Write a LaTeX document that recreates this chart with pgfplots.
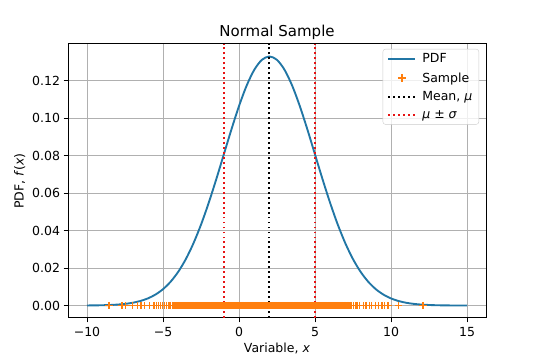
\documentclass[border=0pt]{standalone}
\usepackage{fontspec}
\setmainfont{DejaVu Sans}
\usepackage{pgfplots}
\pgfplotsset{compat=1.18}
\definecolor{pdfblue}{RGB}{33,118,165}
\definecolor{samporange}{RGB}{255,127,14}
\definecolor{gridgray}{RGB}{176,176,176}
\definecolor{legframe}{RGB}{204,204,204}
\definecolor{sigred}{RGB}{230,20,20}
\pgfplotsset{
  lineleg/.style={legend image code/.code={\draw[##1, line width=2pt] (0pt,0pt) -- (27pt,0pt); \path (31pt,0pt);}},
  markleg/.style={legend image code/.code={\draw[##1, line width=1.25pt] plot coordinates {(13.5pt,0pt)}; \path (0pt,0pt) (31pt,0pt);}},
}
\begin{document}
\begin{tikzpicture}
\begin{axis}[
  scale only axis, width=418pt, height=274pt,
  xmin=-11.25, xmax=16.25, ymin=-0.00665, ymax=0.13963,
  xtick={-10,-5,0,5,10,15}, xticklabels={−10,−5,0,5,10,15},
  ytick={0,0.02,0.04,0.06,0.08,0.10,0.12},
  yticklabels={0.00,0.02,0.04,0.06,0.08,0.10,0.12},
  tick align=outside, xtick pos=bottom, ytick pos=left,
  major tick length=4.4pt,
  tick style={black, line width=1pt},
  axis line style={line width=1pt},
  grid=major, grid style={gridgray, line width=1pt},
  ticklabel style={font=\fontsize{12.5}{15}\selectfont},
  xticklabel style={yshift=-1pt},
  title={Normal Sample},
  title style={font=\fontsize{15}{18}\selectfont, yshift=-5pt},
  xlabel={Variable, \textit{x}},
  ylabel={PDF, \textit{f}(\textit{x})},
  label style={font=\fontsize{12.5}{15}\selectfont},
  legend cell align=left,
  legend style={at={(1,1)}, anchor=north east, xshift=-7pt, yshift=-5pt,
    draw=legframe, rounded corners=2.5pt, fill=white, fill opacity=0.8, text opacity=1,
    font=\fontsize{12.5}{15}\selectfont, inner xsep=4.5pt, inner ysep=2.5pt,
    row sep=4.2pt},
]
\addplot[pdfblue, line width=1.875pt, smooth, lineleg] coordinates {
(-10,0.0000446) (-9.5,0.0000858) (-9,0.000160) (-8.5,0.000291) (-8,0.000514)
(-7.5,0.000884) (-7,0.001477) (-6.5,0.002402) (-6,0.003799) (-5.5,0.005843)
(-5,0.008740) (-4.5,0.012721) (-4,0.017997) (-3.5,0.024771) (-3,0.033159)
(-2.5,0.043172) (-2,0.054670) (-1.5,0.067332) (-1,0.080657) (-0.5,0.093970)
(0,0.106483) (0.5,0.117355) (1,0.125794) (1.5,0.131146) (2,0.132981)
(2.5,0.131146) (3,0.125794) (3.5,0.117355) (4,0.106483) (4.5,0.093970)
(5,0.080657) (5.5,0.067332) (6,0.054670) (6.5,0.043172) (7,0.033159)
(7.5,0.024771) (8,0.017997) (8.5,0.012721) (9,0.008740) (9.5,0.005843)
(10,0.003799) (10.5,0.002402) (11,0.001477) (11.5,0.000884) (12,0.000514)
(12.5,0.000291) (13,0.000160) (13.5,0.0000858) (14,0.0000446) (14.5,0.0000226)
(15,0.0000111)
};
\addlegendentry{PDF}
\addplot[only marks, mark=+, mark size=3.75pt, samporange,
  mark options={solid, line width=1.25pt}, markleg] coordinates {
(-8.55,0) (-7.7,0) (-7.45,0) (-7.0,0) (-6.7,0) (-6.45,0) (-6.2,0) (-5.9,0)
(-5.6,0) (-5.45,0) (-5.3,0) (-5.15,0) (-5.02,0) (-4.9,0) (-4.75,0) (-4.6,0) (-4.5,0)
(-4.38,0) (-4.27,0) (-4.15,0)
(-4.02,0) (-3.95,0) (-3.88,0) (-3.81,0) (-3.74,0) (-3.67,0) (-3.60,0) (-3.53,0)
(-3.46,0) (-3.39,0) (-3.32,0) (-3.25,0) (-3.18,0) (-3.11,0) (-3.04,0) (-2.97,0)
(-2.90,0) (-2.83,0) (-2.76,0) (-2.69,0) (-2.62,0) (-2.55,0) (-2.48,0) (-2.41,0)
(-2.34,0) (-2.27,0) (-2.20,0) (-2.13,0) (-2.06,0) (-1.99,0) (-1.92,0) (-1.85,0)
(-1.78,0) (-1.71,0) (-1.64,0) (-1.57,0) (-1.50,0) (-1.43,0) (-1.36,0) (-1.29,0)
(-1.22,0) (-1.15,0) (-1.08,0) (-1.01,0) (-0.94,0) (-0.87,0) (-0.80,0) (-0.73,0)
(-0.66,0) (-0.59,0) (-0.52,0) (-0.45,0) (-0.38,0) (-0.31,0) (-0.24,0) (-0.17,0)
(-0.10,0) (-0.03,0) (0.04,0) (0.11,0) (0.18,0) (0.25,0) (0.32,0) (0.39,0)
(0.46,0) (0.53,0) (0.60,0) (0.67,0) (0.74,0) (0.81,0) (0.88,0) (0.95,0)
(1.02,0) (1.09,0) (1.16,0) (1.23,0) (1.30,0) (1.37,0) (1.44,0) (1.51,0)
(1.58,0) (1.65,0) (1.72,0) (1.79,0) (1.86,0) (1.93,0) (2.00,0) (2.07,0)
(2.14,0) (2.21,0) (2.28,0) (2.35,0) (2.42,0) (2.49,0) (2.56,0) (2.63,0)
(2.70,0) (2.77,0) (2.84,0) (2.91,0) (2.98,0) (3.05,0) (3.12,0) (3.19,0)
(3.26,0) (3.33,0) (3.40,0) (3.47,0) (3.54,0) (3.61,0) (3.68,0) (3.75,0)
(3.82,0) (3.89,0) (3.96,0) (4.03,0) (4.10,0) (4.17,0) (4.24,0) (4.31,0)
(4.38,0) (4.45,0) (4.52,0) (4.59,0) (4.66,0) (4.73,0) (4.80,0) (4.87,0)
(4.94,0) (5.01,0) (5.08,0) (5.15,0) (5.22,0) (5.29,0) (5.36,0) (5.43,0)
(5.50,0) (5.57,0) (5.64,0) (5.71,0) (5.78,0) (5.85,0) (5.92,0) (5.99,0)
(6.06,0) (6.13,0) (6.20,0) (6.27,0) (6.34,0) (6.41,0) (6.48,0) (6.55,0)
(6.62,0) (6.69,0) (6.76,0) (6.83,0) (6.90,0) (6.97,0)
(7.1,0) (7.2,0) (7.3,0) (7.42,0) (7.55,0) (7.7,0) (7.82,0) (7.95,0) (8.2,0) (8.35,0)
(8.6,0) (8.7,0) (9.0,0) (9.2,0) (9.4,0) (9.55,0) (9.8,0) (10.5,0) (12.1,0)
};
\addlegendentry{Sample}
\addplot[black, line width=1.875pt, dash pattern=on 1.875pt off 3.1pt, lineleg] coordinates {(2,-0.00665) (2,0.13963)};
\addlegendentry{Mean, \textit{μ}}
\addplot[sigred, line width=1.875pt, dash pattern=on 1.875pt off 3.1pt, lineleg] coordinates {(-1,-0.00665) (-1,0.13963)};
\addlegendentry{\textit{μ} ± \textit{σ}}
\addplot[sigred, line width=1.875pt, dash pattern=on 1.875pt off 3.1pt, forget plot] coordinates {(5,-0.00665) (5,0.13963)};
\end{axis}
\path ([shift={(-68pt,-42pt)}]current axis.south west) rectangle ([shift={(54pt,44pt)}]current axis.north east);
\end{tikzpicture}
\end{document}
